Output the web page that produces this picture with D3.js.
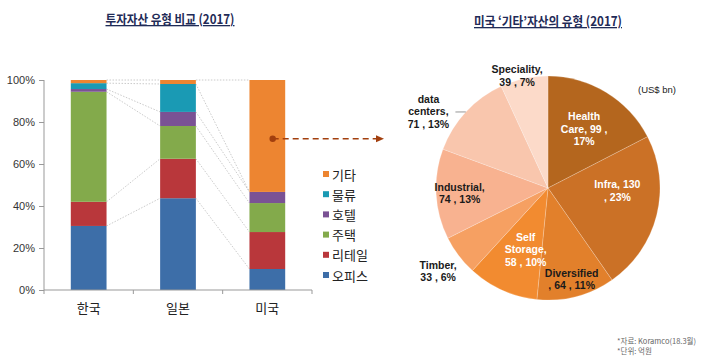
<!DOCTYPE html>
<html><head><meta charset="utf-8">
<script src="https://cdn.jsdelivr.net/npm/d3@7"></script>
<style>
html,body{margin:0;padding:0;background:#fff;}
svg{display:block;}
</style></head>
<body>
<svg id="c" width="720" height="364"></svg>
<script>
// ---------- data ----------
const countries = ["한국", "일본", "미국"];
const seriesNames = ["오피스", "리테일", "주택", "호텔", "물류", "기타"];
const office      = [30.5, 43.7, 10.0];
const retail      = [11.5, 18.8, 17.6];
const residential = [52.4, 15.6, 13.8];
const hotel       = [1.3, 6.7, 5.3];
const logistics   = [2.8, 13.3, 0.0];
const other       = [1.5, 1.9, 53.3];
const yTicks = [0, 0.2, 0.4, 0.6, 0.8, 1.0];

const pieNames  = ["Health Care", "Infra", "Diversified", "Self Storage", "Timber", "Industrial", "data centers", "Speciality"];
const pieValues = [99, 130, 64, 58, 33, 74, 71, 39];

const leftTitle  = "투자자산 유형 비교 (2017)";
const rightTitle = "미국 ‘기타’자산의 유형 (2017)";
const unitNote   = "(US$ bn)";
const footnotes  = ["*자료: Koramco(18.3월)", "*단위: 억원"];

// ---------- styles ----------
const seriesColors = ["#3D6EA8", "#B9373B", "#83AA4B", "#7A5294", "#1A9AB4", "#ED8531"];
const pieColors = ["#B4661E", "#CB7126", "#E2802B", "#F28B30", "#F6A062", "#F8B290", "#F9C6AD", "#FCDAC9"];
const pieText = {
  "Health Care":  {lines: ["Health", "Care,  {v} ,", "{p}%"], r: 0.62, white: true},
  "Infra":        {lines: ["Infra,  {v}", ", {p}%"], r: 0.62, white: true, da: -12},
  "Diversified":  {lines: ["Diversified", ",  {v} , {p}%"], r: 0.84, white: false},
  "Self Storage": {lines: ["Self", "Storage,", "{v} , {p}%"], r: 0.58, white: true, da: -4},
  "Timber":       {lines: ["Timber,", "{v} , {p}%"], r: 1.23, white: false},
  "Industrial":   {lines: ["Industrial,", "{v} , {p}%"], r: 0.79, white: false},
  "data centers": {lines: ["data", "centers,", "{v} , {p}%"], r: 1.27, white: false, da: -10, leader: true},
  "Speciality":   {lines: ["Speciality,", "{v} , {p}%"], r: 1.04, white: false, da: -3}
};

const svg = d3.select("#c");
const KR = "'Noto Sans CJK KR','Noto Sans',sans-serif";
const LAT = "'Liberation Sans',Arial,sans-serif";

// ---------- left: stacked bar ----------
const x = d3.scaleBand().domain(countries).range([44, 312]).paddingInner(0.6).paddingOuter(0.3);
const y = d3.scaleLinear().domain([0, 1]).range([290, 80]);

const rows = countries.map((c, i) => ({
  country: c,
  "오피스": office[i], "리테일": retail[i], "주택": residential[i],
  "호텔": hotel[i], "물류": logistics[i], "기타": other[i]
}));
rows.forEach(r => {
  const t = d3.sum(seriesNames, k => r[k]);
  seriesNames.forEach(k => r[k] = r[k] / t);
});
const stack = d3.stack().keys(seriesNames)(rows);

const gL = svg.append("g");

// series lines (dotted connectors)
stack.forEach(s => {
  for (let i = 0; i < countries.length - 1; i++) {
    gL.append("line")
      .attr("x1", x(countries[i]) + x.bandwidth()).attr("y1", y(s[i][1]))
      .attr("x2", x(countries[i + 1])).attr("y2", y(s[i + 1][1]))
      .attr("stroke", "#BDBDBD").attr("stroke-width", 0.8).attr("stroke-dasharray", "1.5,1.5");
  }
});

stack.forEach((s, si) => {
  gL.selectAll(null).data(s).enter().append("rect")
    .attr("x", d => x(d.data.country))
    .attr("y", d => y(d[1]))
    .attr("width", x.bandwidth())
    .attr("height", d => y(d[0]) - y(d[1]))
    .attr("fill", seriesColors[si]);
});

// y axis
const yAxis = d3.axisLeft(y).tickValues(yTicks).tickFormat(d3.format(".0%")).tickSize(5).tickPadding(4);
const gy = gL.append("g").attr("transform", "translate(44,0)").call(yAxis);
gy.select(".domain").remove();
gy.selectAll(".tick line").attr("stroke", "#999");
gy.selectAll(".tick text").attr("font-family", LAT).attr("font-size", 11).attr("fill", "#333");
gL.append("line").attr("x1", 44).attr("x2", 44).attr("y1", 80).attr("y2", 290).attr("stroke", "#999");

// x axis
const gx = gL.append("g").attr("transform", "translate(0,290)");
gx.append("line").attr("x1", 44).attr("x2", 312).attr("y1", 0).attr("y2", 0).attr("stroke", "#999");
const bounds = countries.map(c => x(c) - x.step() * x.paddingInner() / 2).concat([312]);
bounds[0] = 44;
gx.selectAll(null).data(bounds).enter().append("line")
  .attr("x1", d => d).attr("x2", d => d).attr("y1", 0).attr("y2", 4).attr("stroke", "#999");
gx.selectAll(null).data(countries).enter().append("text")
  .attr("x", d => x(d) + x.bandwidth() / 2).attr("y", 23)
  .attr("text-anchor", "middle").attr("font-family", KR).attr("font-size", 13).attr("fill", "#222")
  .text(d => d);

// legend
const legendOrder = seriesNames.slice().reverse();
const lg = gL.append("g").attr("transform", "translate(323,175)");
legendOrder.forEach((n, i) => {
  const si = seriesNames.indexOf(n);
  lg.append("rect").attr("x", 0).attr("y", i * 20.2 - 4).attr("width", 6).attr("height", 6).attr("fill", seriesColors[si]);
  lg.append("text").attr("x", 9).attr("y", i * 20.2 + 4.5).attr("font-family", KR).attr("font-size", 13).attr("fill", "#222").text(n);
});

// title left
svg.append("text").attr("x", 170).attr("y", 24).attr("text-anchor", "middle")
  .attr("font-family", KR).attr("font-weight", "bold").attr("font-size", 13)
  .attr("textLength", 129).attr("lengthAdjust", "spacingAndGlyphs")
  .attr("fill", "#1F2B57").style("text-decoration", "underline").text(leftTitle);

// arrow
const ay = y(0.72);
const ax0 = x("미국") + x.bandwidth() * 0.65;
svg.append("circle").attr("cx", ax0).attr("cy", ay).attr("r", 3.2).attr("fill", "#A23F0E");
svg.append("line").attr("x1", ax0).attr("y1", ay).attr("x2", 378).attr("y2", ay)
  .attr("stroke", "#A23F0E").attr("stroke-width", 1.6).attr("stroke-dasharray", "6,4");
svg.append("path").attr("d", `M376,${ay - 3.5} L384,${ay} L376,${ay + 3.5} Z`).attr("fill", "#A23F0E");

// ---------- right: pie ----------
const cx = 548, cy = 188, R = 112;
const total = d3.sum(pieValues);
const pieData = d3.pie().sort(null).value(d => d.v)(pieNames.map((n, i) => ({n, v: pieValues[i]})));
const arc = d3.arc().innerRadius(0).outerRadius(R);
const gP = svg.append("g").attr("transform", `translate(${cx},${cy})`);
gP.selectAll(null).data(pieData).enter().append("path")
  .attr("d", arc).attr("fill", (d, i) => pieColors[i])
  .attr("stroke", "#fff").attr("stroke-opacity", 0.35).attr("stroke-width", 0.6);

pieData.forEach(d => {
  const cfg = pieText[d.data.n];
  const p = Math.round(d.data.v / total * 100);
  const a = (d.startAngle + d.endAngle) / 2 + (cfg.da || 0) * Math.PI / 180;
  const lx = Math.sin(a) * R * cfg.r, ly = -Math.cos(a) * R * cfg.r;
  const lines = cfg.lines.map(s => s.replace("{v}", d.data.v).replace("{p}", p));
  const lh = 12.5;
  const t = gP.append("text").attr("text-anchor", "middle")
    .attr("font-family", LAT).attr("font-weight", "bold").attr("font-size", 10.5)
    .attr("fill", cfg.white ? "#fff" : "#1a1a1a");
  lines.forEach((s, i) => {
    t.append("tspan").attr("x", lx).attr("y", ly + (i - (lines.length - 1) / 2) * lh + 4).text(s);
  });
  if (cfg.leader) {
    const ea = (d.startAngle + d.endAngle) / 2;
    const ex = Math.sin(ea) * R, ey = -Math.cos(ea) * R;
    gP.append("line").attr("x1", lx + 27).attr("y1", ly + 1).attr("x2", ex).attr("y2", ey)
      .attr("stroke", "#8a8a8a").attr("stroke-width", 0.9);
  }
});

svg.append("text").attr("x", 657).attr("y", 93).attr("text-anchor", "middle")
  .attr("font-family", LAT).attr("font-size", 9.5).attr("fill", "#222").text(unitNote);

// title right
svg.append("text").attr("x", 548).attr("y", 26).attr("text-anchor", "middle")
  .attr("font-family", KR).attr("font-weight", "bold").attr("font-size", 13)
  .attr("textLength", 148).attr("lengthAdjust", "spacingAndGlyphs")
  .attr("fill", "#1F2B57").style("text-decoration", "underline").text(rightTitle);

// footnotes
footnotes.forEach((f, i) => {
  svg.append("text").attr("x", 617).attr("y", 344 + i * 10).attr("font-family", KR)
    .attr("font-size", 7.5).attr("fill", "#666").text(f);
});
</script>
</body></html>
